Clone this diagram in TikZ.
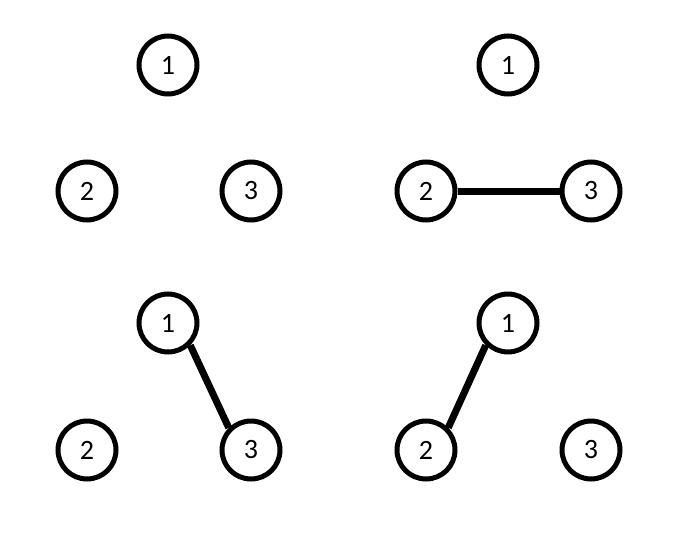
\documentclass[tikz,border=0pt]{standalone}
\usepackage{fontspec}
\setmainfont{Carlito}
\begin{document}
\begin{tikzpicture}[x=1pt,y=-1pt,
  vert/.style={circle,draw,line width=5pt,minimum size=58pt,inner sep=0pt,font=\fontsize{28}{28}\selectfont},
  edge/.style={line width=7pt}]
\useasboundingbox (0,0) rectangle (675,535);
% top-left
\node[vert] (a1) at (168,65) {1};
\node[vert] (a2) at (87,191) {2};
\node[vert] (a3) at (251,191) {3};
% top-right
\node[vert] (b1) at (508,65) {1};
\node[vert] (b2) at (426,191) {2};
\node[vert] (b3) at (591,191) {3};
\draw[edge] (b2.east) -- (b3.west);
% bottom-left
\node[vert] (c1) at (168,323) {1};
\node[vert] (c2) at (87,450) {2};
\node[vert] (c3) at (251,450) {3};
\draw[edge] (c1.south east) -- (c3.north west);
% bottom-right
\node[vert] (d1) at (508,323) {1};
\node[vert] (d2) at (426,450) {2};
\node[vert] (d3) at (591,450) {3};
\draw[edge] (d1.south west) -- (d2.north east);
\end{tikzpicture}
\end{document}
